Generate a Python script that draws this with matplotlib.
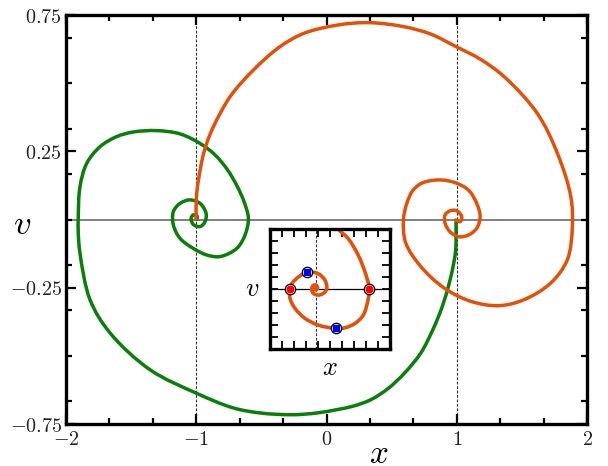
import matplotlib
matplotlib.use("Agg")
import numpy as np
import matplotlib.pyplot as plt
from matplotlib.ticker import MultipleLocator, FixedLocator
from matplotlib.path import Path
from matplotlib.patches import PathPatch

plt.rcParams['mathtext.fontset'] = 'cm'
plt.rcParams['font.family'] = ['DejaVu Serif']

# ---------------- data ----------------
green_x = [0.994, 0.991, 0.968, 0.927, 0.880, 0.820, 0.723, 0.599, 0.472, 0.339,
           0.200, 0.083, -0.050, -0.173, -0.280, -0.500, -0.716, -1.004, -1.355, -1.662,
           -1.816, -1.893, -1.906, -1.906, -1.893, -1.841, -1.739, -1.611, -1.483, -1.304,
           -1.125, -0.971, -0.856, -0.760, -0.683, -0.630, -0.600, -0.626, -0.689, -0.818,
           -0.920, -1.023, -1.125, -1.176, -1.176, -1.125, -1.048, -0.971, -0.925, -0.933,
           -0.971, -1.023, -1.040, -1.023, -0.994, -0.994]
green_v = [-0.009, -0.112, -0.180, -0.260, -0.330, -0.400, -0.490, -0.563, -0.620, -0.661,
           -0.685, -0.697, -0.708, -0.714, -0.716, -0.710, -0.691, -0.636, -0.551, -0.416,
           -0.294, -0.123, -0.050, 0.010, 0.120, 0.206, 0.267, 0.304, 0.321, 0.326,
           0.314, 0.279, 0.237, 0.182, 0.119, 0.061, 0.004, -0.057, -0.106, -0.136,
           -0.130, -0.106, -0.069, -0.020, 0.029, 0.059, 0.072, 0.059, 0.023, -0.008,
           -0.026, -0.018, 0.004, 0.017, 0.013, 0.002]

orange_x = [-1.002, -1.000, -0.991, -0.952, -0.917, -0.869, -0.741, -0.562, -0.357, -0.173,
            0.083, 0.326, 0.595, 0.800, 0.994, 1.180, 1.363, 1.618, 1.772, 1.875,
            1.887, 1.849, 1.721, 1.516, 1.324, 1.107, 0.902, 0.723, 0.608, 0.590,
            0.616, 0.660, 0.718, 0.782, 0.884, 0.987, 1.089, 1.153, 1.179, 1.153,
            1.089, 1.012, 0.948, 0.910, 0.910, 0.948, 1.000, 1.038, 1.025, 0.992]
orange_v = [0.002, 0.072, 0.120, 0.226, 0.284, 0.340, 0.450, 0.548, 0.634, 0.683,
            0.713, 0.722, 0.707, 0.680, 0.634, 0.588, 0.524, 0.389, 0.243, 0.084,
            -0.026, -0.147, -0.233, -0.294, -0.316, -0.300, -0.251, -0.172, -0.086, -0.002,
            0.059, 0.105, 0.130, 0.141, 0.145, 0.135, 0.108, 0.059, 0.010, -0.032,
            -0.057, -0.063, -0.045, -0.014, 0.017, 0.032, 0.032, 0.010, -0.008, -0.002]

fixed_points_x = [-1.0, 1.0]

xtick_major = [-2, -1, 0, 1, 2]
xtick_labels = ['$-2$', '$-1$', '$0$', '$1$', '$2$']
ytick_major = [0.75, 0.25, -0.25, -0.75]
ytick_labels = ['$0.75$', '$0.25$', '$-0.25$', '$-0.75$']

# inset trajectory
inset_x = [0.100, 0.138, 0.305, 0.472, 0.583, 0.655, 0.638, 0.555, 0.417, 0.250,
           0.095, -0.195, -0.417, -0.583, -0.667, -0.667, -0.638, -0.528, -0.378, -0.195,
           -0.083, -0.055, -0.112, -0.195, -0.278, -0.305, -0.283, -0.233, -0.208, -0.242,
           -0.250]
inset_v = [1.080, 0.999, 0.837, 0.559, 0.280, 0.000, -0.161, -0.440, -0.579, -0.653,
           -0.663, -0.608, -0.495, -0.328, -0.161, -0.005, 0.084, 0.196, 0.280, 0.251,
           0.141, 0.000, -0.077, -0.105, -0.077, -0.005, 0.054, 0.062, 0.012, -0.022,
           0.000]
inset_red_x = [-0.667, 0.655]
inset_red_v = [0.0, 0.0]
inset_blue_x = [-0.378, 0.095]
inset_blue_v = [0.280, -0.663]
inset_dashed_x = -0.23

GREEN = '#0b7d0b'
ORANGE = '#e0520a'


def smooth_path(axis, xs, ys, alpha=0.5):
    """Cubic Bezier path through the read points (centripetal Catmull-Rom),
    built in display space and mapped back to data space."""
    P = axis.transData.transform(np.column_stack([xs, ys]).astype(float))
    n = len(P)
    verts = [P[0]]
    codes = [Path.MOVETO]
    eps = 1e-6
    for i in range(n - 1):
        p1 = P[i]
        p2 = P[i + 1]
        p0 = P[i - 1] if i > 0 else p1 - (p2 - p1)
        p3 = P[i + 2] if i + 2 < n else p2 + (p2 - p1)
        d1 = max(np.linalg.norm(p1 - p0) ** alpha, eps)
        d2 = max(np.linalg.norm(p2 - p1) ** alpha, eps)
        d3 = max(np.linalg.norm(p3 - p2) ** alpha, eps)
        c1 = (d1**2 * p2 - d2**2 * p0 + (2*d1**2 + 3*d1*d2 + d2**2) * p1) / (3*d1*(d1 + d2))
        c2 = (d3**2 * p1 - d2**2 * p3 + (2*d3**2 + 3*d3*d2 + d2**2) * p2) / (3*d3*(d3 + d2))
        verts += [c1, c2, p2]
        codes += [Path.CURVE4] * 3
    verts = axis.transData.inverted().transform(np.array(verts))
    return Path(verts, codes)


def draw_curve(axis, xs, ys, color, lw, z):
    patch = PathPatch(smooth_path(axis, xs, ys), facecolor='none', edgecolor=color,
                      lw=lw, zorder=z, capstyle='round', joinstyle='round')
    axis.add_patch(patch)


fig = plt.figure(figsize=(6.08, 4.66), dpi=100)
ax = fig.add_axes([0.1086, 0.0901, 0.857, 0.8777])
ax.set_xlim(-2, 2)
ax.set_ylim(-0.75, 0.75)

ax.axhline(0, color='#7f7f7f', lw=1.4, zorder=1)
for xv in fixed_points_x:
    ax.axvline(xv, color='#333333', lw=0.8, ls=(0, (2.5, 1.5)), zorder=1)

draw_curve(ax, green_x, green_v, GREEN, 2.5, 3)
draw_curve(ax, orange_x, orange_v, ORANGE, 2.5, 3)

ax.xaxis.set_major_locator(FixedLocator(xtick_major))
ax.set_xticklabels(xtick_labels)
ax.xaxis.set_minor_locator(MultipleLocator(1/3))
ax.yaxis.set_major_locator(FixedLocator(ytick_major))
ax.set_yticklabels(ytick_labels)
ax.yaxis.set_minor_locator(MultipleLocator(1/6))
ax.tick_params(which='both', direction='in', top=True, right=True, labelsize=14.5)
ax.tick_params(which='major', length=7, width=1.6)
ax.tick_params(which='minor', length=4.5, width=1.6)
ax.tick_params(axis='x', which='major', pad=4)
ax.tick_params(axis='y', which='major', pad=3)
for s in ax.spines.values():
    s.set_linewidth(2.4)
for lab in ax.get_xticklabels() + ax.get_yticklabels():
    lab.set_color('#222222')

ax.text(0.6, -0.073, '$x$', transform=ax.transAxes, fontsize=24, ha='center', va='center')
ax.text(-0.085, 0.49, '$v$', transform=ax.transAxes, fontsize=25, ha='center', va='center')

# ---------------- inset ----------------
ins = fig.add_axes([0.4441, 0.2521, 0.1974, 0.2564])
ins.set_xlim(-1, 1)
ins.set_ylim(-1, 1)
ins.axhline(0, color='black', lw=0.9, zorder=1)
ins.axvline(inset_dashed_x, color='#333333', lw=0.8, ls=(0, (2.5, 1.5)), zorder=1)
draw_curve(ins, inset_x, inset_v, ORANGE, 2.6, 2)
ins.plot(inset_red_x, inset_red_v, 'o', ms=7.5, mfc='white', mec='black', mew=0.9, zorder=3)
ins.plot(inset_red_x, inset_red_v, 'o', ms=4.8, mfc='red', mec='red', zorder=4)
ins.plot(inset_blue_x, inset_blue_v, 'o', ms=7.5, mfc='white', mec='black', mew=0.9, zorder=3)
ins.plot(inset_blue_x, inset_blue_v, 's', ms=4.6, mfc='blue', mec='blue', zorder=4)
ins.xaxis.set_major_locator(MultipleLocator(0.2))
ins.yaxis.set_major_locator(MultipleLocator(0.2))
ins.tick_params(which='both', direction='in', top=True, right=True,
                labelbottom=False, labelleft=False, length=5.5, width=1.3)
for s in ins.spines.values():
    s.set_linewidth(2.4)
ins.text(0.5, -0.16, '$x$', transform=ins.transAxes, fontsize=19, ha='center', va='center')
ins.text(-0.15, 0.5, '$v$', transform=ins.transAxes, fontsize=19, ha='center', va='center')

fig.savefig('out.png', dpi=100)
